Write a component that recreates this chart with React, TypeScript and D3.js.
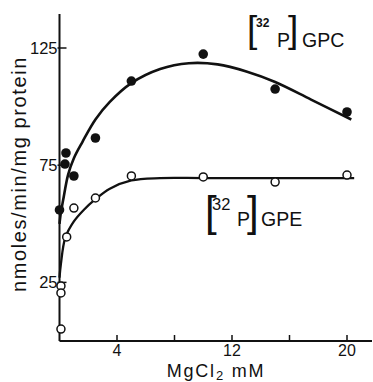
import React from "react";
import * as d3 from "d3";

const gpcX = [0, 0.45, 0.38, 1, 2.5, 5, 10, 15, 20];
const gpcY = [55.9, 80.2, 75.5, 70.4, 86.6, 110.9, 122.4, 107.5, 97.7];
const gpeX = [0.1, 0.1, 0.1, 0.5, 1, 2.5, 5, 10, 15, 20];
const gpeY = [23.5, 20.5, 5.1, 44.4, 56.7, 61, 70.4, 70, 67.8, 70.8];

const gpcFitX = [0, 0.1, 0.25, 0.6, 1.0, 1.6, 2.5, 3.5, 5, 7, 9, 11, 13, 15, 17.5, 20.3];
const gpcFitY = [50, 55, 60, 71, 78, 85, 94.5, 102, 110, 116, 118.5, 118, 115, 110.5, 103, 94.5];
const gpeFitX = [0, 0.1, 0.4, 1, 1.7, 2.5, 3.5, 5, 7, 10, 15, 20.5];
const gpeFitY = [27, 33, 44, 51, 56, 60.5, 65, 68.5, 69.5, 69.5, 69.5, 69.5];

const xTicks = [4, 8, 12, 16, 20];
const xTickLabels = ["4", "", "12", "", "20"];
const yTicks = [25, 75, 125];

const FONT = "'Liberation Sans', Arial, sans-serif";

export default function App() {
  const W = 373, H = 382;
  const x = d3.scaleLinear().domain([0, 20]).range([59.5, 347]);
  const y = d3.scaleLinear().domain([0, 125]).range([341, 48]);
  const mk = (xs: number[]) =>
    d3
      .line<number>()
      .x((_, i) => x(xs[i]))
      .y((d) => y(d))
      .curve(d3.curveCatmullRom.alpha(0.5));
  const gpcPath = mk(gpcFitX)(gpcFitY);
  const gpePath = mk(gpeFitX)(gpeFitY);
  const x0 = x(0);
  const yb = y(0);
  return (
    <svg
      width={W}
      height={H}
      style={{ position: "absolute", left: 0, top: 0, background: "#fff" }}
      fontFamily={FONT}
    >
      <rect width={W} height={H} fill="#fff" />
      {/* axes */}
      <line x1={x0} x2={x0} y1={14} y2={yb} stroke="#111" strokeWidth={2} />
      <line x1={x0} x2={372} y1={yb} y2={yb} stroke="#111" strokeWidth={2} />
      {xTicks.map((t, i) => (
        <g key={t}>
          <line x1={x(t)} x2={x(t)} y1={yb} y2={yb - 6} stroke="#111" strokeWidth={1.5} />
          <text x={x(t)} y={356} textAnchor="middle" fontSize={16} fill="#111">
            {xTickLabels[i]}
          </text>
        </g>
      ))}
      {yTicks.map((t) => (
        <g key={t}>
          <line x1={x0 - 2} x2={x0 + 7} y1={y(t)} y2={y(t)} stroke="#111" strokeWidth={1.5} />
          <text x={x0 - 2} y={y(t) + 6} textAnchor="end" fontSize={16.5} fill="#111">
            {t}
          </text>
        </g>
      ))}
      {/* axis titles */}
      <text x={216} y={377} textAnchor="middle" fontSize={18} letterSpacing={1.8} fill="#111">
        MgCl<tspan fontSize={13} dy={3}>2</tspan>
        <tspan dy={-3}> mM</tspan>
      </text>
      <text
        transform={`translate(26,174) rotate(-90)`}
        textAnchor="middle"
        fontSize={20}
        letterSpacing={1.6}
        fill="#111"
      >
        nmoles/min/mg protein
      </text>
      {/* curves */}
      <path d={gpcPath || ""} fill="none" stroke="#111" strokeWidth={2.6} />
      <path d={gpePath || ""} fill="none" stroke="#111" strokeWidth={2.3} />
      {/* points */}
      {gpcX.map((v, i) => (
        <circle key={"c" + i} cx={x(v)} cy={y(gpcY[i])} r={4.8} fill="#111" />
      ))}
      {gpeX.map((v, i) => (
        <circle
          key={"e" + i}
          cx={x(v)}
          cy={y(gpeY[i])}
          r={4}
          fill="#fff"
          stroke="#111"
          strokeWidth={1.5}
        />
      ))}
      {/* series labels */}
      <g fill="#111">
        <text x={247} y={42} fontSize={37}>[</text>
        <text x={256} y={27} fontSize={12} fontWeight="bold">32</text>
        <text x={277} y={47} fontSize={19.5}>P</text>
        <text x={288} y={42} fontSize={37}>]</text>
        <text x={302} y={47} fontSize={19.5}>GPC</text>
      </g>
      <g fill="#111">
        <text x={205} y={226} fontSize={42}>[</text>
        <text x={212} y={210} fontSize={16.5}>32</text>
        <text x={237} y={226} fontSize={19.5}>P</text>
        <text x={247} y={226} fontSize={42}>]</text>
        <text x={261} y={226} fontSize={19.5}>GPE</text>
      </g>
    </svg>
  );
}
